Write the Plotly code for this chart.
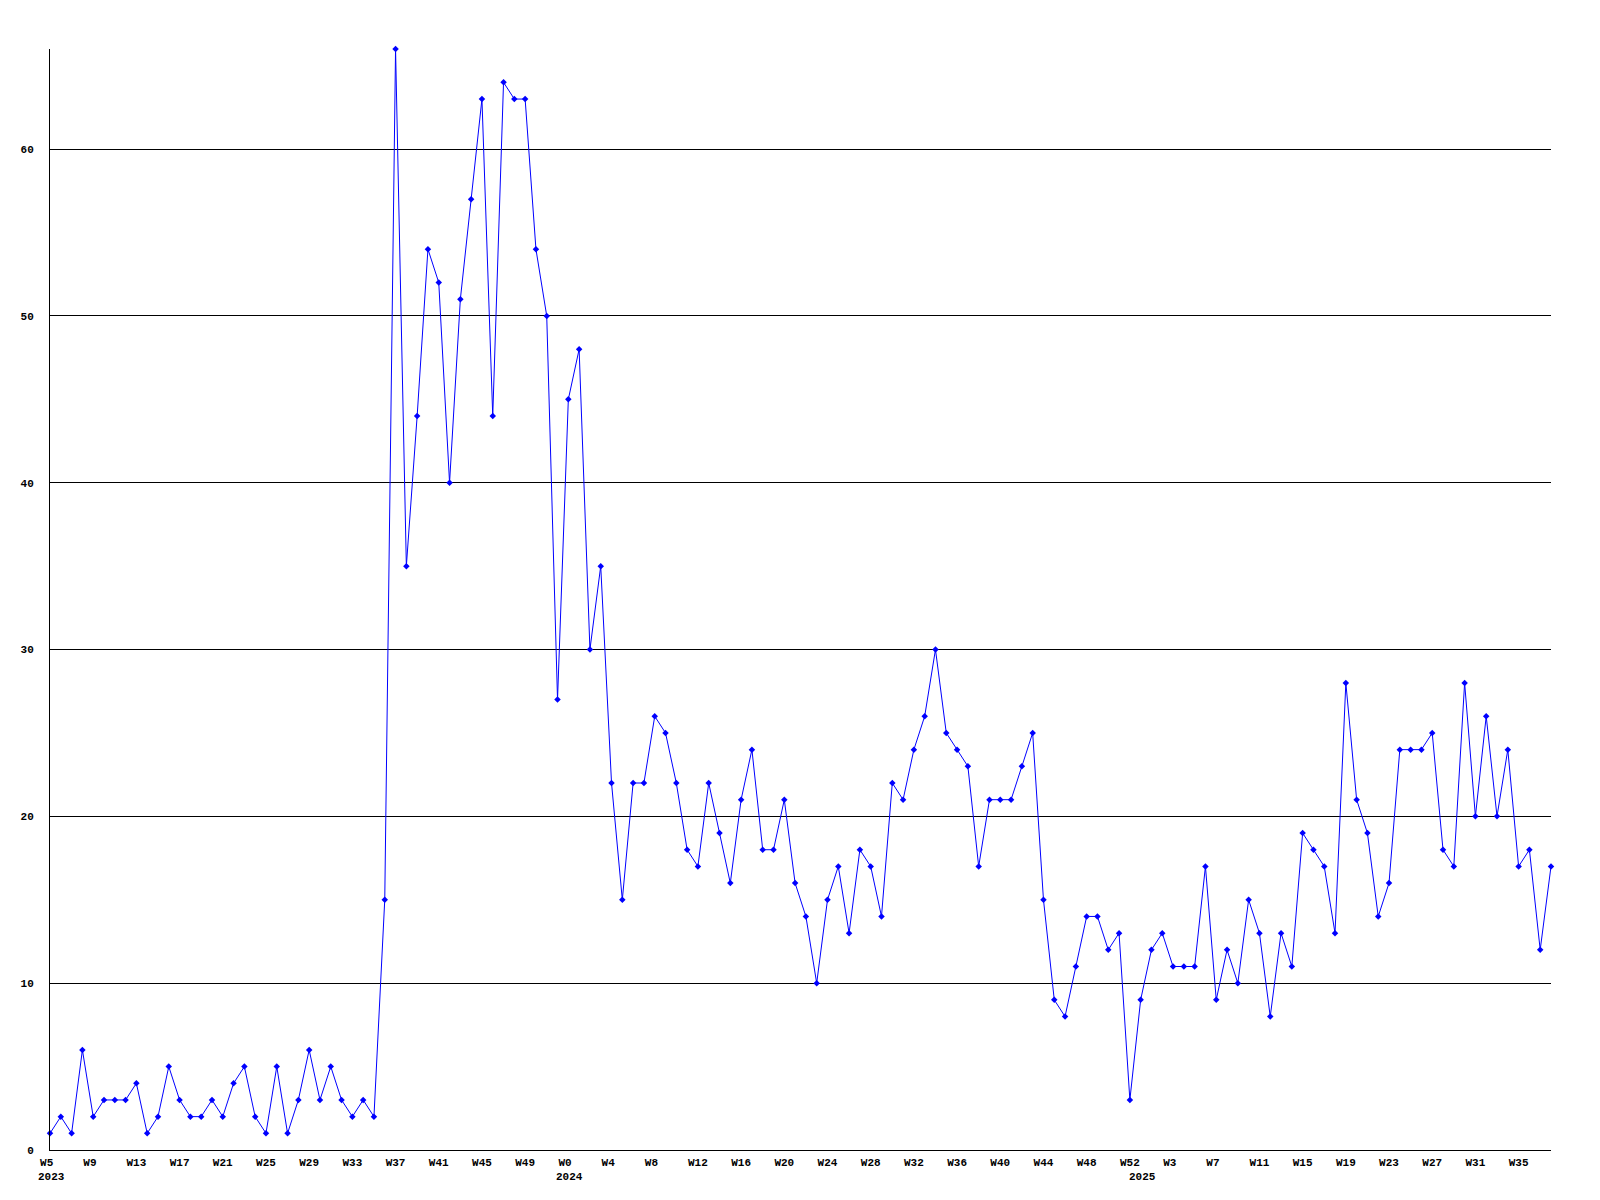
import plotly.graph_objects as go

# ---- data ----
weeks_2023 = list(range(5, 53))
weeks_2024 = list(range(0, 53))
weeks_2025 = list(range(0, 39))

values_2023 = [1, 2, 1, 6, 2, 3, 3, 3, 4, 1, 2, 5, 3, 2, 2, 3, 2, 4, 5, 2,
               1, 5, 1, 3, 6, 3, 5, 3, 2, 3, 2,
               15, 66, 35, 44, 54, 52, 40, 51, 57, 63, 44, 64, 63, 63, 54, 50, 27]
values_2024 = [45, 48, 30, 35, 22, 15, 22, 22, 26, 25,
               22, 18, 17, 22, 19, 16, 21, 24, 18, 18,
               21, 16, 14, 10, 15, 17, 13, 18, 17, 14,
               22, 21, 24, 26, 30, 25, 24, 23, 17, 21,
               21, 21, 23, 25, 15, 9, 8, 11, 14, 14,
               12, 13, 3]
values_2025 = [9, 12, 13, 11, 11, 11, 17, 9, 12, 10,
               15, 13, 8, 13, 11, 19, 18, 17, 13, 28,
               21, 19, 14, 16, 24, 24, 24, 25, 18, 17,
               28, 20, 26, 20, 24, 17, 18, 12, 17]

y_ticks = [0, 10, 20, 30, 40, 50, 60]

# ---- assemble ----
weeks = weeks_2023 + weeks_2024 + weeks_2025
years = [2023] * len(weeks_2023) + [2024] * len(weeks_2024) + [2025] * len(weeks_2025)
values = values_2023 + values_2024 + values_2025
idx = list(range(len(values)))

tickvals = idx[::4]
ticktext = []
for i in tickvals:
    t = "W%d" % weeks[i]
    if len(t) < 3:
        t = t + "\u00a0"
    ticktext.append(t)

FONT = "Liberation Mono"

fig = go.Figure()
fig.add_trace(go.Scatter(
    x=idx, y=values, mode="lines+markers",
    line=dict(color="#0000ff", width=1),
    marker=dict(symbol="diamond", size=5, color="#0000ff"),
    cliponaxis=False,
    hoverinfo="skip",
))

# year labels at first point of each year
annotations = []
for i in idx:
    if i == 0 or years[i] != years[i - 1]:
        annotations.append(dict(
            x=i, y=0, xref="x", yref="paper", text=str(years[i]),
            showarrow=False, xanchor="left", yanchor="top",
            xshift=-13, yshift=-20, borderpad=0,
            font=dict(family=FONT, size=11, color="black", weight="bold"),
        ))

fig.update_layout(
    width=1600, height=1200,
    margin=dict(l=50, r=49, t=49, b=50),
    paper_bgcolor="white", plot_bgcolor="white",
    showlegend=False,
    annotations=annotations,
    xaxis=dict(
        range=[0, len(values) - 1],
        tickvals=tickvals, ticktext=ticktext,
        showgrid=False, zeroline=False,
        showline=True, linecolor="black", linewidth=1,
        ticks="", ticklabelstandoff=2,
        tickfont=dict(family=FONT, size=11, color="black", weight="bold"),
        tickangle=0,
    ),
    yaxis=dict(
        range=[0, 66],
        tickvals=y_ticks,
        showgrid=True, gridcolor="black", gridwidth=1,
        zeroline=False,
        showline=True, linecolor="black", linewidth=1,
        ticks="", ticklabelstandoff=13,
        tickfont=dict(family=FONT, size=11, color="black", weight="bold"),
    ),
)

fig.write_html("out.html", config={"displayModeBar": False},
               post_script="document.body.style.margin='0';")
